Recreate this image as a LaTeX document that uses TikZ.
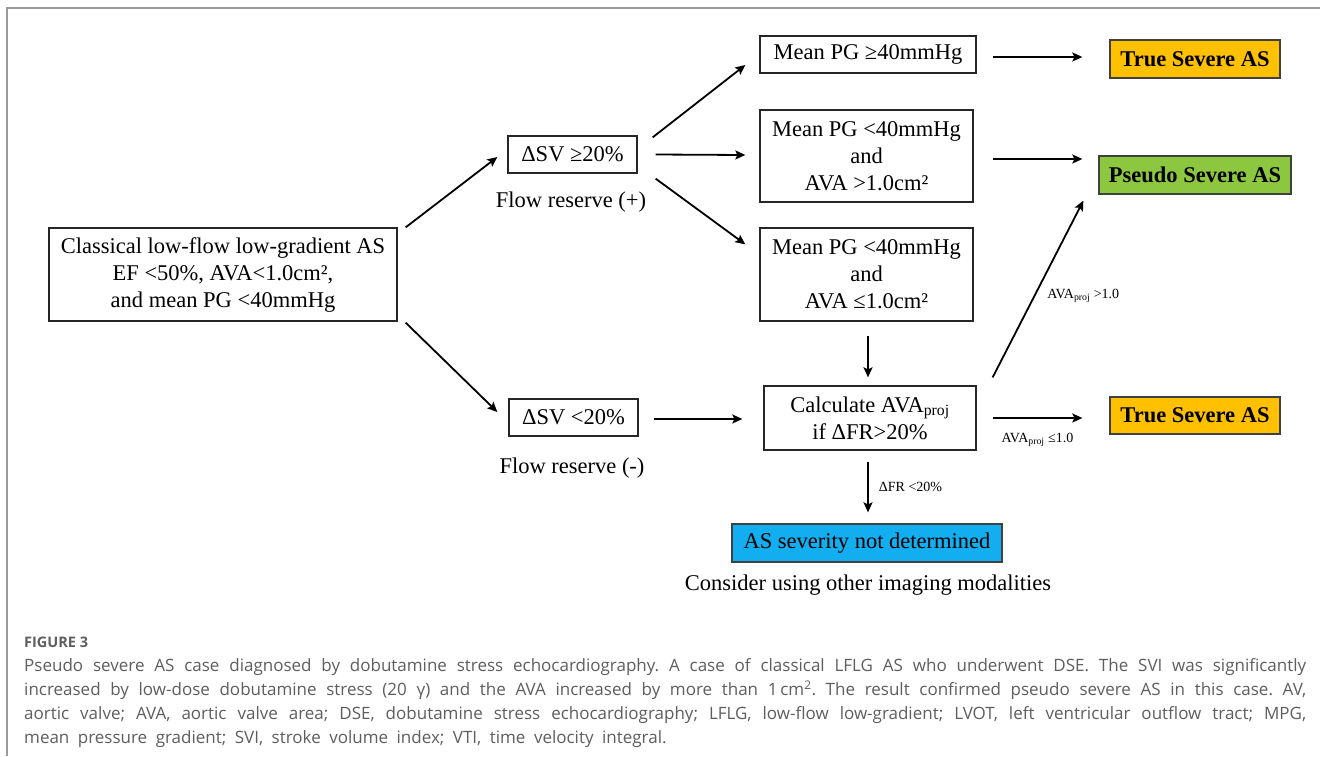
\documentclass[tikz,border=0pt]{standalone}
\usepackage{fontspec}
\setmainfont{Liberation Serif}
\newfontfamily\capfont{Open Sans}
\usetikzlibrary{arrows.meta}
\definecolor{oran}{HTML}{FFC000}
\definecolor{gree}{HTML}{8DC63F}
\definecolor{blu}{HTML}{12AEEF}
\definecolor{capgray}{HTML}{5E5E5E}
\definecolor{framegray}{HTML}{9A9A9A}
\newcommand{\capspacing}{\frenchspacing\spaceskip=8.5pt plus 5pt minus 2.5pt\relax}
\begin{document}
\begin{tikzpicture}[x=1pt,y=-1pt,
  box/.style={draw=black!85, line width=1.3pt, inner sep=0pt, align=center,
    font=\fontsize{22.5}{27}\selectfont},
  resbox/.style={box, draw=black!75, font=\fontsize{22.5}{27}\selectfont\bfseries},
  plain/.style={inner sep=0pt, align=center, font=\fontsize{22.5}{27}\selectfont},
  small/.style={inner sep=0pt, font=\fontsize{14}{16}\selectfont},
  arr/.style={line width=1.8pt, -{Stealth[length=10pt,width=9pt,inset=2pt]}}]
\useasboundingbox (0,0) rectangle (1320,756);
\fill[white] (0,0) rectangle (1320,756);
% frame
\coordinate (fa) at (7,756);
\coordinate (fb) at (7,8);
\coordinate (fc) at (1320,8);
\draw[framegray, line width=1.2pt] (fa) -- (fb) -- (fc);

% nodes
\node[box, minimum width=348pt, minimum height=93pt] (L) at (223,274.5)
  {Classical low-flow low-gradient AS\\EF <50\%, AVA<1.0cm²,\\and mean PG <40mmHg};
\node[box, minimum width=129pt, minimum height=37pt] (S1) at (572.5,154.5) {ΔSV ≥20\%};
\node[plain] (F1) at (571,202) {Flow reserve (+)};
\node[box, minimum width=129pt, minimum height=37pt] (S2) at (573.5,417.5) {ΔSV <20\%};
\node[plain] (F2) at (572,468) {Flow reserve (-)};

\node[box, minimum width=216pt, minimum height=37pt] (B1) at (868,54.5) {Mean PG ≥40mmHg};
\node[box, minimum width=213pt, minimum height=92pt] (B2) at (866.5,156)
  {Mean PG <40mmHg\\and\\AVA >1.0cm²};
\node[box, minimum width=213pt, minimum height=93pt] (B3) at (866.5,274.5)
  {Mean PG <40mmHg\\and\\AVA ≤1.0cm²};
\node[box, minimum width=212pt, minimum height=64pt] (C) at (870,418)
  {Calculate AVA\textsubscript{proj}\\if ΔFR>20\%};

\node[resbox, fill=oran, minimum width=170pt, minimum height=38pt] (T1) at (1195,59) {True Severe AS};
\node[resbox, fill=gree, minimum width=192pt, minimum height=38pt] (P) at (1195,175) {Pseudo Severe AS};
\node[resbox, fill=oran, minimum width=170pt, minimum height=37pt] (T2) at (1195,415.5) {True Severe AS};
\node[box, fill=blu, draw=black!75, minimum width=270pt, minimum height=38pt] (A) at (867,543) {AS severity not determined};
\node[plain] (CU) at (868,585) {Consider using other imaging modalities};

% arrows
\draw[arr] ([xshift=8pt]L.north east) -- ([xshift=-10pt,yshift=-2.5pt]S1.west);
\draw[arr] ([xshift=8pt,yshift=-1pt]L.south east) -- ([xshift=-11pt,yshift=5.5pt]S2.west);
\draw[arr] ([xshift=15pt,yshift=-2pt]S1.north east) -- ([xshift=-14pt,yshift=-10.5pt]B1.west);
\draw[arr] ([xshift=18pt]S1.east) -- ([xshift=-14pt,yshift=1pt]B2.west);
\draw[arr] ([xshift=18pt,yshift=-5pt]S1.south east) -- ([xshift=-14pt,yshift=-17pt]B3.north west);
\draw[arr] ([xshift=16pt,yshift=-2.5pt]B1.east) -- ([xshift=-27pt,yshift=2pt]T1.west);
\draw[arr] ([xshift=19pt,yshift=-3pt]B2.east) -- ([xshift=-16pt,yshift=16pt]P.west);
\draw[arr] ([xshift=1.5pt,yshift=-14pt]B3.south) -- ([xshift=-2pt,yshift=8pt]C.north);
\draw[arr] ([xshift=15pt,yshift=-1.5pt]S2.east) -- ([xshift=-21pt,yshift=-1pt]C.west);
\draw[arr] ([xshift=16pt,yshift=8pt]C.north east) -- ([xshift=-15pt,yshift=-6pt]P.south west)
  node[small, pos=0.46, anchor=west, xshift=12pt] (LB1) {AVA\textsubscript{proj} >1.0};
\draw[arr] ([xshift=16pt]C.east) -- ([xshift=-27pt,yshift=-2.5pt]T2.west)
  node[small, midway, below=14pt] (LB2) {AVA\textsubscript{proj} ≤1.0};
\draw[arr] ([xshift=-2pt,yshift=-11pt]C.south) -- ([xshift=1pt,yshift=11pt]A.north)
  node[small, midway, anchor=west, xshift=10pt] (LB3) {ΔFR <20\%};

% caption
\node[anchor=west, inner sep=0pt, text=capgray, font=\capfont\bfseries\fontsize{14.5}{16}\selectfont] (FG) at (24,642) {FIGURE 3};
\node[anchor=north west, text width=1282pt, align=justify, inner sep=0pt, text=capgray,
  font=\capfont\fontsize{17}{24}\selectfont] (CAP) at (24,658.5)
  {\capspacing Pseudo severe AS case diagnosed by dobutamine stress echocardiography. A case of classical LFLG AS who underwent DSE. The SVI was significantly\linebreak
  increased by low-dose dobutamine stress (20 γ) and the AVA increased by more than 1\,cm\textsuperscript{2}. The result confirmed pseudo severe AS in this case. AV,\linebreak
  aortic valve; AVA, aortic valve area; DSE, dobutamine stress echocardiography; LFLG, low-flow low-gradient; LVOT, left ventricular outflow tract; MPG,\linebreak
  mean pressure gradient; SVI, stroke volume index; VTI, time velocity integral.};
\end{tikzpicture}
\end{document}
